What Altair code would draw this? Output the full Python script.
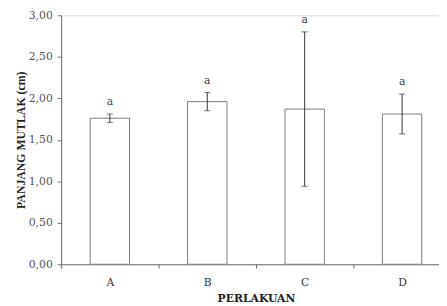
import altair as alt
import pandas as pd

categories = ["A", "B", "C", "D"]
means = [1.76, 1.96, 1.87, 1.81]
sds = [0.05, 0.11, 0.93, 0.24]
letters = ["a", "a", "a", "a"]

df = pd.DataFrame({
    "cat": categories,
    "mean": means,
    "lo": [m - s for m, s in zip(means, sds)],
    "hi": [m + s for m, s in zip(means, sds)],
    "lab": letters,
})

FONT = "Liberation Serif"
WFONT = "DejaVu Serif"
xs = alt.Scale(domain=categories, range=[0, 396], paddingInner=0, paddingOuter=0)
ys = alt.Scale(domain=[0, 3], nice=False)

x = alt.X("cat:N", scale=xs, sort=categories,
          axis=alt.Axis(title="PERLAKUAN", labelAngle=0, tickBand="extent",
                        domainColor="#6e6e6e", tickColor="#6e6e6e", tickSize=4,
                        labelFont=WFONT, labelFontSize=11, labelColor="#333333", labelPadding=9,
                        titleFont=WFONT, titleFontSize=11, titleFontWeight="bold",
                        titleColor="#222222", titlePadding=5))

base = alt.Chart(df)

bars = base.mark_bar(fill="white", stroke="#7a7a7a", strokeWidth=1, size=40).encode(
    x=x,
    y=alt.Y("mean:Q", scale=ys,
            axis=alt.Axis(title="PANJANG MUTLAK (cm)", values=[0, 0.5, 1, 1.5, 2, 2.5, 3],
                          labelExpr="replace(format(datum.value, '.2f'), '.', ',')",
                          domainColor="#6e6e6e", tickColor="#6e6e6e", tickSize=4,
                          labelFont=WFONT, labelFontSize=11, labelColor="#555555", labelPadding=5,
                          titleFont=FONT, titleFontSize=12, titleFontWeight="bold",
                          titleColor="#222222", titlePadding=1, grid=False)),
)

rule = base.mark_rule(color="#333333", strokeWidth=1).encode(
    x=alt.X("cat:N", scale=xs, sort=categories), y="lo:Q", y2="hi:Q")
cap_lo = base.mark_tick(color="#333333", size=6, thickness=1).encode(
    x=alt.X("cat:N", scale=xs, sort=categories), y=alt.Y("lo:Q", scale=ys))
cap_hi = base.mark_tick(color="#333333", size=6, thickness=1).encode(
    x=alt.X("cat:N", scale=xs, sort=categories), y=alt.Y("hi:Q", scale=ys))
text = base.mark_text(font=WFONT, fontSize=11, color="#444444", dy=-7, baseline="bottom").encode(
    x=alt.X("cat:N", scale=xs, sort=categories), y=alt.Y("hi:Q", scale=ys), text="lab:N")

chart = alt.layer(bars, rule, cap_lo, cap_hi, text).properties(
    width=384, height=253,
    autosize=alt.AutoSizeParams(type="none"),
    padding={"left": 54, "top": 5, "right": 0, "bottom": 40},
).configure_view(stroke=None).configure(background="white")

chart.save("out.html", embed_options={"renderer": "svg", "actions": False})
